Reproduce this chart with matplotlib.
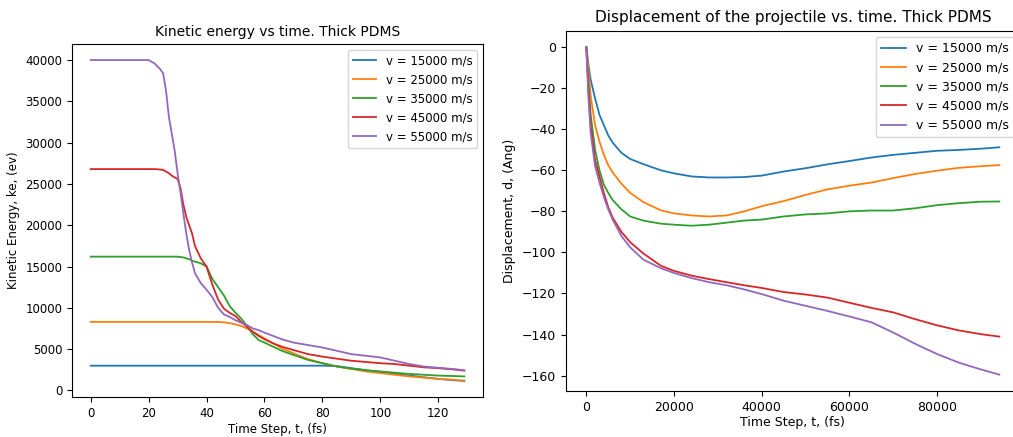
import numpy as np
import matplotlib.pyplot as plt

labels = ['v = 15000 m/s', 'v = 25000 m/s', 'v = 35000 m/s', 'v = 45000 m/s', 'v = 55000 m/s']

# kinetic energy (ev) vs time step (fs)
t_ke = [0, 10, 20, 22, 24, 25, 26, 27, 28, 29, 30, 31, 32, 33, 34, 35, 36, 38, 40, 42, 44, 46, 48,
        50, 52, 54, 56, 58, 60, 63, 66, 70, 75, 80, 85, 90, 95, 100, 105, 110, 115, 120, 125, 129]
ke_15 = [3000, 3000, 3000, 3000, 3000, 3000, 3000, 3000, 3000, 3000, 3000, 3000, 3000, 3000, 3000,
         3000, 3000, 3000, 3000, 3000, 3000, 3000, 3000, 3000, 3000, 3000, 3000, 3000, 3000, 3000,
         3000, 3000, 3000, 3000, 2950, 2700, 2450, 2250, 2000, 1800, 1600, 1400, 1250, 1150]
ke_25 = [8300, 8300, 8300, 8300, 8300, 8300, 8300, 8300, 8300, 8300, 8300, 8300, 8300, 8300, 8300,
         8300, 8300, 8300, 8300, 8300, 8300, 8250, 8150, 8000, 7800, 7500, 7100, 6700, 6300, 5700,
         5100, 4500, 3800, 3300, 2900, 2600, 2300, 2100, 1900, 1700, 1550, 1400, 1300, 1200]
ke_35 = [16200, 16200, 16200, 16200, 16200, 16200, 16200, 16200, 16200, 16200, 16200, 16150, 16100,
         16000, 15900, 15700, 15600, 15400, 15000, 13500, 12500, 11500, 10200, 9400, 8700, 7800, 6800,
         6100, 5800, 5300, 4800, 4300, 3700, 3300, 2900, 2650, 2450, 2300, 2150, 2000, 1900, 1800,
         1750, 1700]
ke_45 = [26800, 26800, 26800, 26800, 26750, 26700, 26500, 26300, 26000, 25800, 25600, 24500, 22500,
         21000, 20000, 19000, 17500, 16000, 15000, 12800, 11000, 9900, 9400, 9000, 8300, 7700, 7100,
         6600, 6200, 5700, 5300, 4900, 4400, 4100, 3850, 3600, 3450, 3300, 3200, 3000, 2800, 2700,
         2550, 2400]
ke_55 = [40000, 40000, 40000, 39600, 38900, 38400, 36300, 33100, 31100, 29000, 26300, 24000, 21400,
         19000, 17000, 15500, 14200, 13000, 12200, 11300, 10000, 9200, 8900, 8500, 8200, 7900, 7500,
         7300, 7000, 6600, 6200, 5800, 5500, 5200, 4800, 4400, 4200, 4000, 3600, 3200, 2900, 2750,
         2600, 2450]

# displacement (Ang) vs time step (fs)
t_d = [0, 500, 1000, 2000, 3000, 4000, 5000, 6000, 8000, 10000, 13000, 17000, 20000, 24000, 28000,
       32000, 36000, 40000, 45000, 50000, 55000, 60000, 65000, 70000, 75000, 80000, 85000, 90000, 94200]
d_15 = [0, -9, -16, -25, -33, -38, -43, -46.5, -51.5, -54.5, -57, -60, -61.5, -63, -63.5,
        -63.5, -63.3, -62.6, -60.6, -59, -57.1, -55.5, -53.8, -52.5, -51.5, -50.5, -50.1, -49.5, -48.8]
d_25 = [0, -11, -24, -38, -46, -52.5, -57.5, -61, -66.5, -71, -75.5, -79.5, -81, -82, -82.5,
        -82, -80, -77.5, -75, -72, -69.3, -67.5, -66, -63.8, -61.8, -60.2, -58.8, -58, -57.5]
d_35 = [0, -18, -33, -50, -60, -67, -71, -74.5, -79, -82.5, -84.5, -86, -86.5, -87, -86.5,
        -85.5, -84.5, -84, -82.5, -81.5, -81, -80, -79.6, -79.6, -78.5, -77, -76, -75.3, -75.2]
d_45 = [0, -22, -38, -55, -63, -71, -78, -83, -90, -95, -100.5, -106.5, -109, -111.3, -113,
        -114.5, -116, -117.3, -119.3, -120.5, -122, -124.5, -127, -129.2, -132.5, -135.5, -138, -139.8, -141]
d_55 = [0, -25, -42, -58, -66, -73, -79, -84, -92, -97.5, -103.5, -107.7, -110, -112.5, -114.5,
        -116, -118, -120.3, -123.5, -126, -128.5, -131.2, -134, -139, -144.5, -149.5, -153.7, -157, -159.5]

ke_series = [ke_15, ke_25, ke_35, ke_45, ke_55]
d_series = [d_15, d_25, d_35, d_45, d_55]

fig = plt.figure(figsize=(10.13, 4.37), dpi=100)

# left panel
ax1 = fig.add_axes([0.0711, 0.0915, 0.4057, 0.8078])
for ys, lab in zip(ke_series, labels):
    ax1.plot(t_ke, ys, label=lab, lw=1.3)
ax1.set_title('Kinetic energy vs time. Thick PDMS', fontsize=10)
ax1.set_xlabel('Time Step, t, (fs)', fontsize=8.5, labelpad=2)
ax1.set_ylabel('Kinetic Energy, ke, (ev)', fontsize=8.5)
ax1.tick_params(labelsize=8.5)
ax1.legend(loc='upper right', fontsize=8.5)

# right panel (runs past the right edge, like the original screenshot)
ax2 = fig.add_axes([0.5584, 0.1053, 0.4485, 0.8245])
for ys, lab in zip(d_series, labels):
    ax2.plot(t_d, ys, label=lab, lw=1.3)
ax2.set_title('Displacement of the projectile vs. time. Thick PDMS', fontsize=11)
ax2.set_xlabel('Time Step, t, (fs)', fontsize=9, labelpad=2)
ax2.set_ylabel('Displacement, d, (Ang)', fontsize=9)
ax2.tick_params(labelsize=9)
ax2.legend(loc='upper right', fontsize=9)

fig.savefig('out.png', dpi=100)
